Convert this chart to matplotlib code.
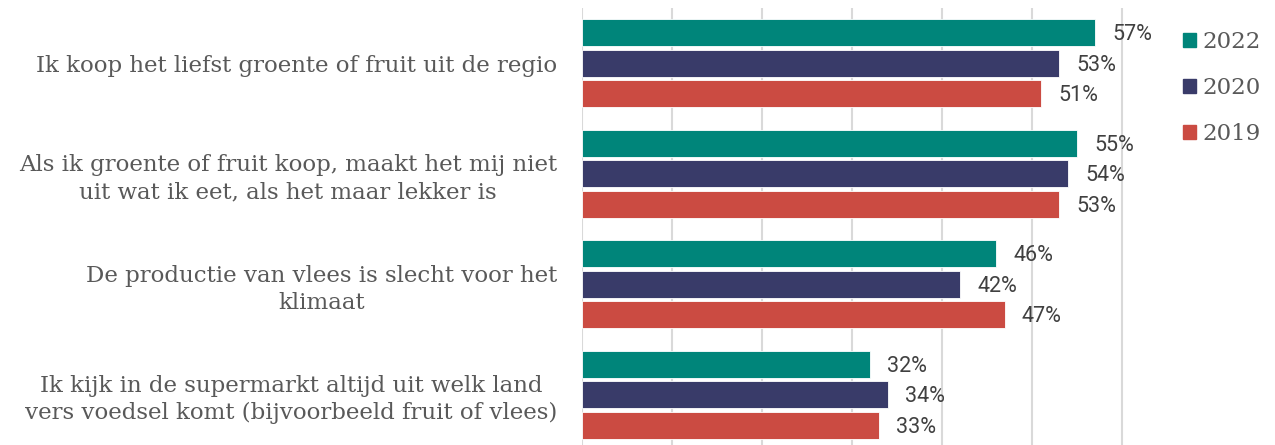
import matplotlib
matplotlib.use("Agg")
import matplotlib.pyplot as plt
import numpy as np

categories = [
    "Ik koop het liefst groente of fruit uit de regio",
    "Als ik groente of fruit koop, maakt het mij niet\nuit wat ik eet, als het maar lekker is",
    "De productie van vlees is slecht voor het\nklimaat",
    "Ik kijk in de supermarkt altijd uit welk land\nvers voedsel komt (bijvoorbeeld fruit of vlees)",
]
series_names = ["2022", "2020", "2019"]
values_2022 = [57, 55, 46, 32]
values_2020 = [53, 54, 42, 34]
values_2019 = [51, 53, 47, 33]
colors = ["#00857A", "#393B69", "#CB4B42"]

W, H = 1275, 445
fig = plt.figure(figsize=(W / 100, H / 100), dpi=100)
ax_left, ax_right = 582, 1140
ax_top, ax_bottom = 8, 450
ax = fig.add_axes([ax_left / W, (H - ax_bottom) / H, (ax_right - ax_left) / W, (ax_bottom - ax_top) / H])

xmax = 60 * (ax_right - ax_left) / 540.0
ax.set_xlim(0, xmax)
ax.set_ylim(3.5, -0.5)

y = np.arange(len(categories))
pitch = 0.277
height = 0.245
all_vals = [values_2022, values_2020, values_2019]
for i, (name, vals, c) in enumerate(zip(series_names, all_vals, colors)):
    pos = y + (i - 1) * pitch
    ax.barh(pos, vals, height=height, color=c, edgecolor="white", linewidth=0.6, label=name, zorder=3)
    for p, v in zip(pos, vals):
        ax.annotate(f"{v}%", xy=(v, p), xytext=(17, -2), textcoords="offset pixels",
                    ha="left", va="center", fontsize=15.5, family="Roboto", color="#404040")

ax.set_xticks(np.arange(0, 61, 10))
ax.grid(axis="x", color="#D9D9D9", linewidth=1.5, zorder=0)
ax.tick_params(axis="x", length=0, labelbottom=False)
ax.tick_params(axis="y", length=0, pad=18)
for s in ax.spines.values():
    s.set_visible(False)
ax.set_yticks(y)
ax.set_yticklabels(categories, family="DejaVu Serif", fontsize=16.5, color="#595959",
                   linespacing=1.3)
for lbl in ax.get_yticklabels():
    lbl.set_multialignment("center")

# legend
handles = [plt.Rectangle((0, 0), 1, 1, color=c) for c in colors]
leg = fig.legend(handles, series_names, loc="upper left", bbox_to_anchor=(1183 / W, 1 - 31 / H),
                 frameon=False, prop={"family": "DejaVu Serif", "size": 16.5},
                 labelcolor="#595959", handlelength=0.57, handleheight=0.57,
                 handletextpad=0.3, labelspacing=1.04, borderpad=0, borderaxespad=0)

fig.savefig("out.png", dpi=100)
